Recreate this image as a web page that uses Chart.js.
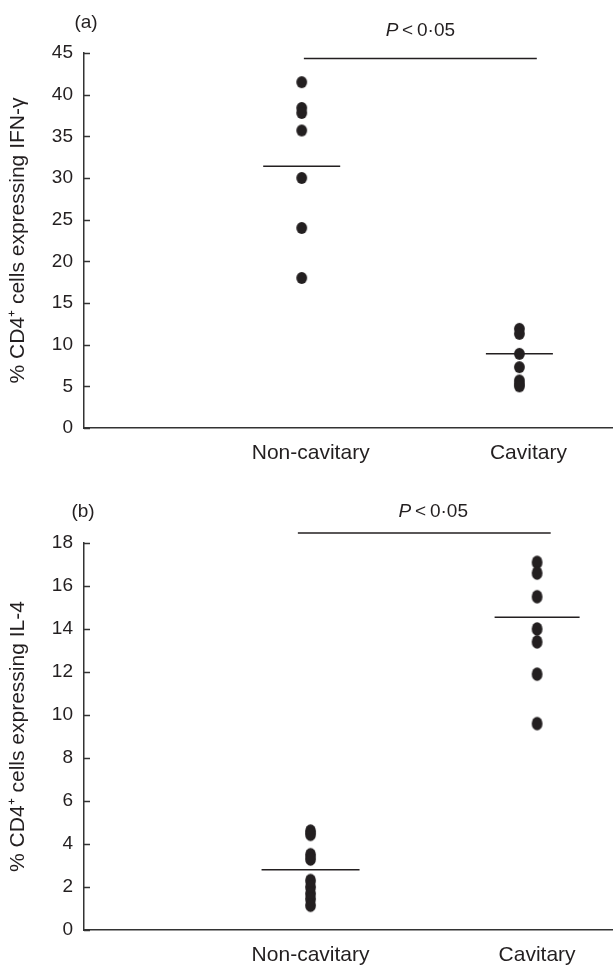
<!DOCTYPE html>
<html><head><meta charset="utf-8">
<script src="https://cdn.jsdelivr.net/npm/chart.js@4.4.0/dist/chart.umd.min.js"></script>
<style>
html,body{margin:0;padding:0;background:#fff;width:613px;height:968px;overflow:hidden}
.wrap{position:absolute;left:0;width:613px;height:484px}
</style></head><body>
<div class="wrap" style="top:0"><canvas id="ca"></canvas></div>
<div class="wrap" style="top:484px"><canvas id="cb"></canvas></div>
<script>
// ---- data ----
const categories = ["Non-cavitary", "Cavitary"];
const ifnNonCavitary = [41.5, 38.4, 37.8, 35.7, 30.0, 24.0, 18.0];
const ifnCavitary = [11.9, 11.3, 8.9, 7.3, 5.7, 5.3, 5.0];
const ifnMeans = [31.4, 8.9];
const ifnTicks = [0, 5, 10, 15, 20, 25, 30, 35, 40, 45];
const il4NonCavitary = [4.6, 4.45, 3.5, 3.3, 2.3, 2.0, 1.7, 1.45, 1.15];
const il4Cavitary = [17.1, 16.6, 15.5, 14.0, 13.4, 11.9, 9.6];
const il4Means = [2.8, 14.55];
const il4Ticks = [0, 2, 4, 6, 8, 10, 12, 14, 16, 18];
const ifnSigSpan = [1.01, 2.08];
const ifnSigLevel = 44.35;
const il4SigSpan = [0.944, 2.06];
const il4SigLevel = 18.47;
const pValueText = "0·05";

const INK = '#231f20';
const FONT = '"Liberation Sans", Arial, Helvetica, sans-serif';

function dot(w, h) {
  const c = document.createElement('canvas');
  c.width = Math.ceil(w) + 2; c.height = Math.ceil(h) + 2;
  const g = c.getContext('2d');
  g.fillStyle = INK;
  g.beginPath();
  g.ellipse(c.width / 2, c.height / 2, w / 2, h / 2, 0, 0, Math.PI * 2);
  g.fill();
  return c;
}

const annot = {
  id: 'annot',
  afterDraw(chart, args, o) {
    const ctx = chart.ctx;
    const ys = chart.scales.y, xs = chart.scales.x;
    ctx.save();
    // inward ticks on y axis
    ctx.strokeStyle = '#333'; ctx.lineWidth = 1.5;
    ys.ticks.forEach(t => {
      const py = Math.round(ys.getPixelForValue(t.value)) + 0.5;
      ctx.beginPath(); ctx.moveTo(ys.right, py); ctx.lineTo(ys.right + 6, py); ctx.stroke();
    });
    // panel label
    ctx.fillStyle = INK;
    ctx.font = '19px ' + FONT;
    ctx.textAlign = 'center'; ctx.textBaseline = 'middle';
    ctx.fillText(o.panel, o.panelX, o.panelY);
    // P < 0.05
    const mx = (xs.getPixelForValue(o.span[0]) + xs.getPixelForValue(o.span[1])) / 2 + o.pdx;
    const my = ys.getPixelForValue(o.level) - o.pdy;
    ctx.font = 'italic 19px ' + FONT;
    const wP = ctx.measureText('P').width;
    ctx.font = '19px ' + FONT;
    const rest = '\u2009<\u2009' + pValueText;
    const wR = ctx.measureText(rest).width;
    let sx = mx - (wP + wR) / 2;
    ctx.textAlign = 'left';
    ctx.font = 'italic 19px ' + FONT;
    ctx.fillText('P', sx, my);
    ctx.font = '19px ' + FONT;
    ctx.fillText(rest, sx + wP, my);
    ctx.restore();
  }
};

function makeChart(id, cfg) {
  const pts = (vals, x) => vals.map(v => ({x: x, y: v}));
  return new Chart(document.getElementById(id), {
    type: 'scatter',
    data: {
      datasets: [
        {data: pts(cfg.g1, 1), pointStyle: cfg.dot, pointRadius: 6, backgroundColor: INK, borderWidth: 0},
        {data: pts(cfg.g2, 2), pointStyle: cfg.dot, pointRadius: 6, backgroundColor: INK, borderWidth: 0},
        {data: cfg.means.map((m, i) => ({x: i + 1, y: m})), pointStyle: 'line', pointRadius: cfg.meanR,
         pointBorderColor: INK, pointBorderWidth: 1.5, backgroundColor: INK},
        {type: 'line', data: [{x: cfg.span[0], y: cfg.level}, {x: cfg.span[1], y: cfg.level}],
         showLine: true, pointRadius: 0, borderColor: INK, borderWidth: 1.5, clip: false}
      ]
    },
    options: {
      responsive: true, maintainAspectRatio: false, animation: false, events: [],
      layout: {autoPadding: false, padding: {top: cfg.top, left: 0, right: 0, bottom: 0}},
      plugins: {legend: {display: false}, tooltip: {enabled: false},
        annot: {panel: cfg.panel, panelX: cfg.panelX, panelY: cfg.panelY, span: cfg.span, level: cfg.level, pdx: cfg.pdx, pdy: cfg.pdy}},
      scales: {
        x: {
          type: 'linear', min: 0, max: cfg.xmax,
          afterBuildTicks: ax => { ax.ticks = [{value: 1}, {value: 2}]; },
          grid: {display: false, drawTicks: false},
          border: {display: true, color: '#333', width: 1.5},
          ticks: {padding: 13, labelOffset: cfg.labelOffset, color: INK, font: {family: FONT, size: 21},
                  maxRotation: 0, autoSkip: false, callback: v => categories[Math.round(v) - 1]},
          afterFit: s => { s.height = cfg.xh; s.paddingLeft = 0; s.paddingRight = 0; }
        },
        y: {
          min: 0, max: cfg.ymax,
          afterBuildTicks: ax => { ax.ticks = cfg.ticks.map(v => ({value: v})); },
          grid: {display: false, drawTicks: false},
          border: {display: true, color: '#333', width: 1.5},
          ticks: {padding: 11, color: INK, font: {family: FONT, size: 19}},
          title: {display: true, text: cfg.title, color: INK, font: {family: FONT, size: 21}, padding: {top: 6, bottom: 0}},
          afterFit: s => { s.width = 84; s.paddingTop = 0; s.paddingBottom = 0; }
        }
      }
    },
    plugins: [annot]
  });
}

makeChart('ca', {
  g1: ifnNonCavitary, g2: ifnCavitary, means: ifnMeans, meanR: [38.5, 33.5],
  span: ifnSigSpan, level: ifnSigLevel, ticks: ifnTicks, ymax: 45, xmax: 2.43,
  top: 53, xh: 56, labelOffset: 9, dot: dot(10.8, 11.8),
  title: '% CD4\u207A cells expressing IFN-\u03B3', panel: '(a)', panelX: 86, panelY: 23, pdx: 0, pdy: 28
});
makeChart('cb', {
  g1: il4NonCavitary, g2: il4Cavitary, means: il4Means, meanR: [49, 42.5],
  span: il4SigSpan, level: il4SigLevel, ticks: il4Ticks, ymax: 18, xmax: 2.335,
  top: 59, xh: 38, labelOffset: 0, dot: dot(10.8, 13.5),
  title: '% CD4\u207A cells expressing IL-4', panel: '(b)', panelX: 83, panelY: 28, pdx: 9, pdy: 21
});
</script>
</body></html>
